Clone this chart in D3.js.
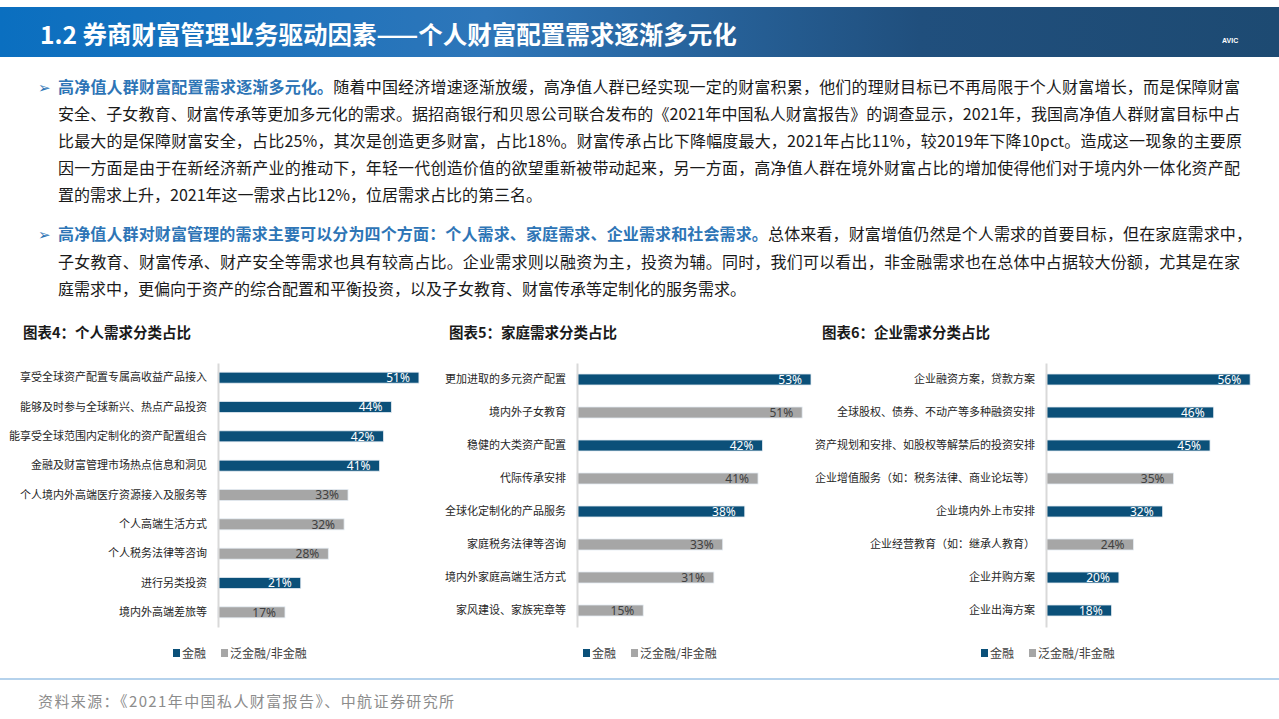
<!DOCTYPE html>
<html><head><meta charset="utf-8">
<script src="https://cdn.jsdelivr.net/npm/d3@7/dist/d3.min.js"></script>
<style>
html,body{margin:0;padding:0;background:#fff;}
svg{display:block;font-family:"Noto Sans CJK SC","Noto Sans",sans-serif;}
</style></head>
<body>
<svg id="chart" width="1279" height="719"></svg>
<script>
// ---------- data ----------
const personalCats = ["享受全球资产配置专属高收益产品接入","能够及时参与全球新兴、热点产品投资","能享受全球范围内定制化的资产配置组合","金融及财富管理市场热点信息和洞见","个人境内外高端医疗资源接入及服务等","个人高端生活方式","个人税务法律等咨询","进行另类投资","境内外高端差旅等"];
const personalValues = [51,44,42,41,33,32,28,21,17];
const personalTypes = ["金融","金融","金融","金融","泛金融/非金融","泛金融/非金融","泛金融/非金融","金融","泛金融/非金融"];

const familyCats = ["更加进取的多元资产配置","境内外子女教育","稳健的大类资产配置","代际传承安排","全球化定制化的产品服务","家庭税务法律等咨询","境内外家庭高端生活方式","家风建设、家族宪章等"];
const familyValues = [53,51,42,41,38,33,31,15];
const familyTypes = ["金融","泛金融/非金融","金融","泛金融/非金融","金融","泛金融/非金融","泛金融/非金融","泛金融/非金融"];

const corpCats = ["企业融资方案，贷款方案","全球股权、债券、不动产等多种融资安排","资产规划和安排、如股权等解禁后的投资安排","企业增值服务（如：税务法律、商业论坛等）","企业境内外上市安排","企业经营教育（如：继承人教育）","企业并购方案","企业出海方案"];
const corpValues = [56,46,45,35,32,24,20,18];
const corpTypes = ["金融","金融","金融","泛金融/非金融","金融","泛金融/非金融","金融","金融"];

const legendLabels = ["金融","泛金融/非金融"];
const chartTitles = ["图表4：个人需求分类占比","图表5：家庭需求分类占比","图表6：企业需求分类占比"];

// ---------- styling ----------
const DARK = "#0b5079", GRAY = "#a6a6a6";
const color = d3.scaleOrdinal().domain(legendLabels).range([DARK, GRAY]);
const labelColor = d3.scaleOrdinal().domain(legendLabels).range(["#ffffff", "#404040"]);

const svg = d3.select("#chart");

// ---------- header ----------
const defs = svg.append("defs");
const grad = defs.append("linearGradient").attr("id","hdr").attr("x1","0").attr("x2","1").attr("y1","0").attr("y2","0");
[["0%","#0a6fc0"],["38%","#2e76b9"],["72%","#204f7d"],["100%","#1d4a72"]].forEach(s=>grad.append("stop").attr("offset",s[0]).attr("stop-color",s[1]));
svg.append("rect").attr("x",0).attr("y",7).attr("width",1279).attr("height",50).attr("fill","url(#hdr)");
svg.append("text").attr("x",40).attr("y",44).attr("fill","#fff").attr("font-size",24.5).attr("font-weight","bold")
  .text("1.2 券商财富管理业务驱动因素——个人财富配置需求逐渐多元化");
svg.append("text").attr("x",1222).attr("y",43).attr("fill","#fff").attr("font-size",7).attr("font-weight","bold").attr("font-family","Liberation Sans, Arial").text("AVIC");

// ---------- paragraphs ----------
const BLUE = "#2e75b6", BODY = "#1a1a1a";
const paraLines = [
  {y:93, bullet:true, target:1240, segs:[["高净值人群财富配置需求逐渐多元化。",true],["随着中国经济增速逐渐放缓，高净值人群已经实现一定的财富积累，他们的理财目标已不再局限于个人财富增长，而是保障财富",false]]},
  {y:120, target:1240, segs:[["安全、子女教育、财富传承等更加多元化的需求。据招商银行和贝恩公司联合发布的《2021年中国私人财富报告》的调查显示，2021年，我国高净值人群财富目标中占",false]]},
  {y:147, target:1242, segs:[["比最大的是保障财富安全，占比25%，其次是创造更多财富，占比18%。财富传承占比下降幅度最大，2021年占比11%，较2019年下降10pct。造成这一现象的主要原",false]]},
  {y:174, target:1240, segs:[["因一方面是由于在新经济新产业的推动下，年轻一代创造价值的欲望重新被带动起来，另一方面，高净值人群在境外财富占比的增加使得他们对于境内外一体化资产配",false]]},
  {y:201, target:null, segs:[["置的需求上升，2021年这一需求占比12%，位居需求占比的第三名。",false]]},
  {y:240, bullet:true, target:1252, segs:[["高净值人群对财富管理的需求主要可以分为四个方面：个人需求、家庭需求、企业需求和社会需求。",true],["总体来看，财富增值仍然是个人需求的首要目标，但在家庭需求中，",false]]},
  {y:268, target:1240, segs:[["子女教育、财富传承、财产安全等需求也具有较高占比。企业需求则以融资为主，投资为辅。同时，我们可以看出，非金融需求也在总体中占据较大份额，尤其是在家",false]]},
  {y:295, target:null, segs:[["庭需求中，更偏向于资产的综合配置和平衡投资，以及子女教育、财富传承等定制化的服务需求。",false]]}
];
const TX = 58;
paraLines.forEach(line=>{
  if(line.bullet){
    svg.append("text").attr("x",38).attr("y",line.y-0.5).attr("font-size",15).attr("fill","#2e75b6").attr("font-family","DejaVu Sans").text("➢");
  }
  const t = svg.append("text").attr("x",TX).attr("y",line.y).attr("font-size",16);
  line.segs.forEach(s=>{
    t.append("tspan").attr("fill", s[1]?BLUE:BODY).attr("font-weight", s[1]?"bold":"normal").text(s[0]);
  });
  if(line.target){
    const w = t.node().getComputedTextLength();
    const n = line.segs.map(s=>s[0]).join("").length;
    const ls = (line.target - TX - w)/(n-1);
    t.style("letter-spacing", ls+"px");
  }
});

// ---------- charts ----------
function drawChart(cfg){
  const g = svg.append("g");
  g.append("text").attr("x",cfg.titleX).attr("y",338).attr("font-size",14.5).attr("font-weight","bold").attr("fill","#1a1a1a").text(cfg.title);

  const y = d3.scaleBand().domain(cfg.cats).range([363,627]).paddingInner(cfg.pad).paddingOuter(cfg.pad/2);
  const x = d3.scaleLinear().domain([0,100]).range([cfg.axisX, cfg.axisX + 100*cfg.pxPer]);

  const bh = 11;
  g.selectAll("rect.bar").data(cfg.cats).join("rect").attr("class","bar")
    .attr("x", x(0)).attr("y", d=>y(d)+y.bandwidth()/2-bh/2)
    .attr("width", (d,i)=>x(cfg.vals[i])-x(0)).attr("height", bh)
    .attr("fill", (d,i)=>color(cfg.types[i]))
    .attr("stroke","#e4ecf3").attr("stroke-width",0.8);

  g.selectAll("text.val").data(cfg.cats).join("text").attr("class","val")
    .attr("x", (d,i)=>x(cfg.vals[i])-9).attr("y", d=>y(d)+y.bandwidth()/2+4.3)
    .attr("text-anchor","end").attr("font-size",12).attr("font-family","Noto Sans, sans-serif")
    .attr("fill", (d,i)=>labelColor(cfg.types[i]))
    .text((d,i)=>cfg.vals[i]+"%");

  const axis = d3.axisLeft(y).tickSize(0).tickSizeOuter(0).tickPadding(11);
  const ag = g.append("g").attr("transform",`translate(${cfg.axisX},0)`).call(axis);
  ag.select(".domain").attr("stroke","#d9d9d9").attr("stroke-width",2);
  ag.selectAll(".tick text").attr("font-size",11).attr("fill","#262626")
    .attr("font-family","Noto Sans CJK SC, sans-serif");

  // legend
  const lg = g.append("g").attr("transform",`translate(${cfg.legendX},653)`);
  let lx = 0;
  legendLabels.forEach((lab,i)=>{
    lg.append("rect").attr("x",lx).attr("y",-4).attr("width",7).attr("height",8).attr("fill",color(lab));
    const tt = lg.append("text").attr("x",lx+9).attr("y",4.5).attr("font-size",12).attr("fill","#404040").text(lab);
    lx += 9 + tt.node().getComputedTextLength() + 15;
  });
}

drawChart({title:chartTitles[0], titleX:23, cats:personalCats, vals:personalValues, types:personalTypes, axisX:218, pxPer:3.94, pad:0.625, legendX:173});
drawChart({title:chartTitles[1], titleX:449, cats:familyCats, vals:familyValues, types:familyTypes, axisX:577, pxPer:4.415, pad:0.65, legendX:583});
drawChart({title:chartTitles[2], titleX:822, cats:corpCats, vals:corpValues, types:corpTypes, axisX:1046, pxPer:3.645, pad:0.65, legendX:981});

// ---------- footer ----------
svg.append("line").attr("x1",0).attr("x2",1279).attr("y1",679).attr("y2",679).attr("stroke","#9dc3e6").attr("stroke-width",1.5);
svg.append("text").attr("x",38).attr("y",707).attr("font-size",15).attr("fill","#8c8c8c").style("letter-spacing","1.4px").text("资料来源：《2021年中国私人财富报告》、中航证券研究所");
</script>
</body></html>
